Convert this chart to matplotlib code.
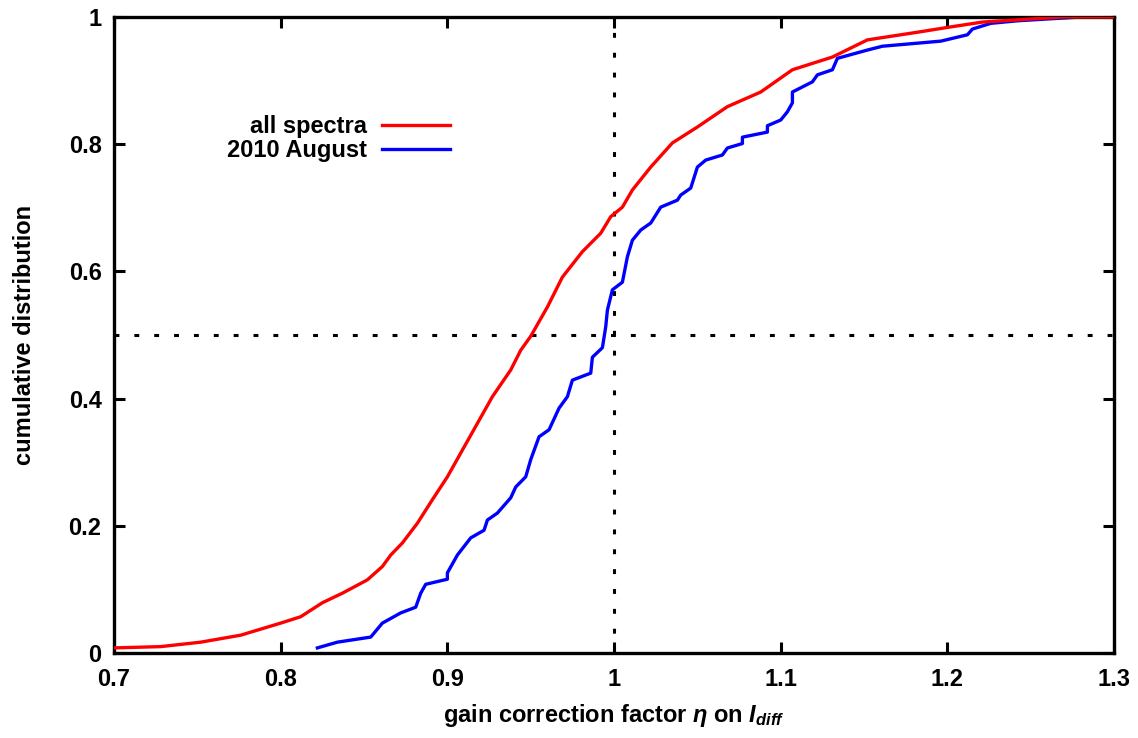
"""Cumulative distribution of the gain correction factor."""
import matplotlib
matplotlib.use("Agg")
import matplotlib.pyplot as plt
from matplotlib.ticker import FuncFormatter

plt.rcParams.update({
    "font.family": "Liberation Sans",
    "font.weight": "bold",
    "axes.labelweight": "bold",
    "font.size": 17,
    "mathtext.fontset": "custom",
    "mathtext.rm": "Liberation Sans:bold",
    "mathtext.it": "Liberation Sans:bold:italic",
    "mathtext.bf": "Liberation Sans:bold",
})

# all spectra
all_x = [0.700, 0.728, 0.752, 0.776, 0.800, 0.812, 0.825, 0.837, 0.852, 0.861,
         0.866, 0.873, 0.882, 0.891, 0.900, 0.909, 0.918, 0.927, 0.938, 0.944,
         0.950, 0.960, 0.969, 0.981, 0.992, 0.998, 1.005, 1.011, 1.022, 1.035,
         1.050, 1.068, 1.088, 1.107, 1.131, 1.152, 1.182, 1.201, 1.221, 1.251,
         1.270, 1.300]
all_y = [0.008, 0.010, 0.017, 0.028, 0.047, 0.057, 0.079, 0.094, 0.115, 0.136,
         0.154, 0.173, 0.204, 0.241, 0.277, 0.319, 0.361, 0.403, 0.445, 0.476,
         0.498, 0.544, 0.591, 0.631, 0.660, 0.686, 0.701, 0.728, 0.764, 0.802,
         0.827, 0.859, 0.882, 0.917, 0.937, 0.964, 0.976, 0.984, 0.992, 0.997,
         1.000, 1.000]

# 2010 August
aug_x = [0.822, 0.834, 0.854, 0.861, 0.872, 0.881, 0.884, 0.887, 0.900, 0.900,
         0.906, 0.914, 0.922, 0.924, 0.930, 0.938, 0.941, 0.947, 0.950, 0.955,
         0.961, 0.967, 0.972, 0.975, 0.986, 0.987, 0.993, 0.995, 0.996, 0.999,
         1.005, 1.008, 1.011, 1.016, 1.022, 1.028, 1.038, 1.040, 1.046, 1.050,
         1.055, 1.065, 1.068, 1.077, 1.077, 1.092, 1.092, 1.100, 1.104, 1.107,
         1.107, 1.119, 1.122, 1.131, 1.134, 1.152, 1.161, 1.196, 1.212, 1.215,
         1.226, 1.242, 1.261, 1.280, 1.300]
aug_y = [0.008, 0.017, 0.025, 0.047, 0.063, 0.072, 0.094, 0.108, 0.116, 0.126,
         0.154, 0.181, 0.193, 0.209, 0.220, 0.244, 0.261, 0.277, 0.304, 0.340,
         0.351, 0.385, 0.403, 0.429, 0.440, 0.465, 0.480, 0.513, 0.539, 0.571,
         0.583, 0.623, 0.649, 0.665, 0.676, 0.701, 0.712, 0.720, 0.731, 0.764,
         0.775, 0.783, 0.794, 0.801, 0.811, 0.819, 0.829, 0.838, 0.851, 0.865,
         0.882, 0.898, 0.909, 0.917, 0.935, 0.948, 0.954, 0.962, 0.972, 0.981,
         0.990, 0.994, 0.997, 1.000, 1.000]

x_ticks = [0.7, 0.8, 0.9, 1.0, 1.1, 1.2, 1.3]
y_ticks = [0, 0.2, 0.4, 0.6, 0.8, 1.0]

fig = plt.figure(figsize=(11.38, 7.38), dpi=100)
ax = fig.add_axes([0.1002, 0.1152, 0.8788, 0.8618])

dots = (0, (1.6, 4.9))
ax.axvline(1.0, color="black", lw=2.2, ls=dots, zorder=1)
ax.axhline(0.5, color="black", lw=2.2, ls=dots, zorder=1)

ax.plot(all_x, all_y, color="#ff0000", lw=2.4, label="all spectra", zorder=3)
ax.plot(aug_x, aug_y, color="#0000ff", lw=2.4, label="2010 August", zorder=2)

ax.set_xlim(0.7, 1.3)
ax.set_ylim(0, 1)
ax.set_xticks(x_ticks)
ax.set_yticks(y_ticks)
fmt = FuncFormatter(lambda v, pos: "%g" % round(v, 3))
ax.xaxis.set_major_formatter(fmt)
ax.yaxis.set_major_formatter(fmt)
ax.tick_params(direction="in", length=8, width=2.2, top=True, right=True)
ax.tick_params(axis="x", pad=11)
ax.tick_params(axis="y", pad=9)
for s in ax.spines.values():
    s.set_linewidth(2.4)

ax.set_xlabel(r"gain correction factor $\eta$ on $I_{diff}$", labelpad=8)
ax.set_ylabel("cumulative distribution")
ax.yaxis.set_label_coords(-0.078, 0.5)

ax.legend(loc="upper right", bbox_to_anchor=(0.336, 0.846), frameon=False,
          markerfirst=False, handlelength=2.9, handletextpad=0.6,
          borderpad=0, borderaxespad=0, labelspacing=0.05)

fig.savefig("out.png")
